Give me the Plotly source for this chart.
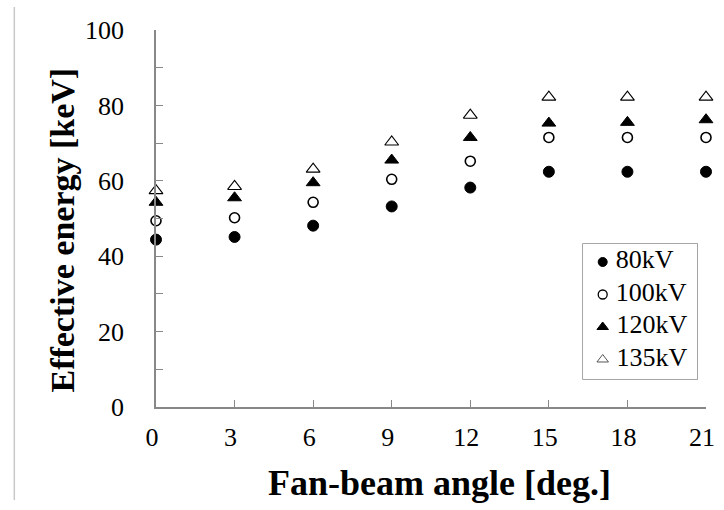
import plotly.graph_objects as go

angles = [0, 3, 6, 9, 12, 15, 18, 21]
kv80 = [44.4, 45.1, 48.1, 53.2, 58.2, 62.4, 62.4, 62.4]
kv100 = [49.4, 50.2, 54.3, 60.4, 65.2, 71.5, 71.5, 71.5]
kv120 = [54.3, 55.5, 59.5, 65.5, 71.5, 75.3, 75.5, 76.2]
kv135 = [57.4, 58.5, 63.1, 70.3, 77.4, 82.2, 82.2, 82.2]

series_names = ["80kV", "100kV", "120kV", "135kV"]
y_ticks = [0, 10, 20, 30, 40, 50, 60, 70, 80, 90, 100]
y_labels = ["0", "", "20", "", "40", "", "60", "", "80", "", "100"]

FONT = "Liberation Serif, Times New Roman, serif"

fig = go.Figure()
plot_styles = [
    dict(symbol="circle", color="black", size=11, line=dict(color="black", width=1)),
    dict(symbol="circle-open", color="black", size=10, line=dict(color="black", width=1.6)),
    dict(symbol="triangle-up", color="black", size=12, line=dict(color="black", width=1)),
    dict(symbol="triangle-up-open", color="black", size=12, line=dict(color="black", width=1.1)),
]
legend_styles = [
    dict(symbol="circle", color="black", size=9, line=dict(color="black", width=1)),
    dict(symbol="circle-open", color="black", size=9, line=dict(color="black", width=1.3)),
    dict(symbol="triangle-up", color="black", size=10, line=dict(color="black", width=1)),
    dict(symbol="triangle-up-open", color="#555555", size=10, line=dict(color="#555555", width=1)),
]
for name, vals, st in zip(series_names, [kv80, kv100, kv120, kv135], plot_styles):
    fig.add_trace(go.Scatter(x=angles, y=vals, mode="markers", name=name,
                             marker=st, cliponaxis=False, showlegend=False))

# Legend drawn as a boxed key on hidden overlay axes (one row per series)
for name, st in zip(series_names, legend_styles):
    fig.add_trace(go.Scatter(x=[20], y=[name], mode="markers+text", name=name,
                             marker=st, text=[" " + name], textposition="middle right",
                             textfont=dict(family=FONT, size=26, color="black"),
                             xaxis="x2", yaxis="y2", showlegend=False,
                             hoverinfo="skip", cliponaxis=False))

LX0, LX1, LY0, LY1 = 0.7764, 0.9839, 0.0743, 0.4324

fig.update_layout(
    width=724, height=510,
    margin=dict(l=156, r=9, t=30, b=103),
    paper_bgcolor="white", plot_bgcolor="white",
    font=dict(family=FONT, size=26, color="black"),
    showlegend=False,
    xaxis=dict(range=[0, 21], tickvals=angles, ticks="inside", ticklen=7,
               tickcolor="#888888", showline=True, linecolor="#888888", linewidth=1.5,
               showgrid=False, zeroline=False, ticklabelstandoff=6,
               ticklabelshift=-4, ticklabeloverflow="allow",
               tickfont=dict(family=FONT, size=26, color="black")),
    yaxis=dict(range=[0, 100], tickvals=y_ticks, ticktext=y_labels, ticks="inside",
               ticklen=7, tickcolor="#888888", showline=True, linecolor="#888888",
               linewidth=1.5, showgrid=False, zeroline=False, ticklabelstandoff=25,
               ticklabeloverflow="allow",
               tickfont=dict(family=FONT, size=26, color="black")),
    xaxis2=dict(domain=[LX0, LX1], anchor="y2", range=[0, 116], visible=False,
                fixedrange=True),
    yaxis2=dict(domain=[LY0, LY1], anchor="x2", type="category",
                categoryorder="array", categoryarray=series_names,
                range=[3.6, -0.554], visible=False, fixedrange=True),
    shapes=[
        dict(type="line", xref="paper", yref="paper",
             x0=-0.2576, x1=-0.2576, y0=-0.2467, y1=1.061,
             line=dict(color="#c8c8c8", width=1.5)),
        dict(type="rect", xref="paper", yref="paper", layer="below",
             x0=LX0, x1=LX1, y0=LY0, y1=LY1,
             line=dict(color="#888888", width=1.5), fillcolor="white"),
    ],
    annotations=[
        dict(text="<b>Effective energy [keV]</b>", xref="paper", yref="paper",
             x=-0.1708, y=0.4682, xanchor="center", yanchor="middle", textangle=-90,
             showarrow=False, font=dict(family=FONT, size=34, color="black")),
        dict(text="<b>Fan-beam angle [deg.]</b>", xref="paper", yref="paper",
             x=0.5161, y=-0.2003, xanchor="center", yanchor="middle",
             showarrow=False, font=dict(family=FONT, size=36, color="black")),
    ],
)

fig.write_html(
    "out.html",
    config={"displayModeBar": False},
    post_script="document.body.style.margin='0';"
                "document.documentElement.style.overflow='hidden';",
)
